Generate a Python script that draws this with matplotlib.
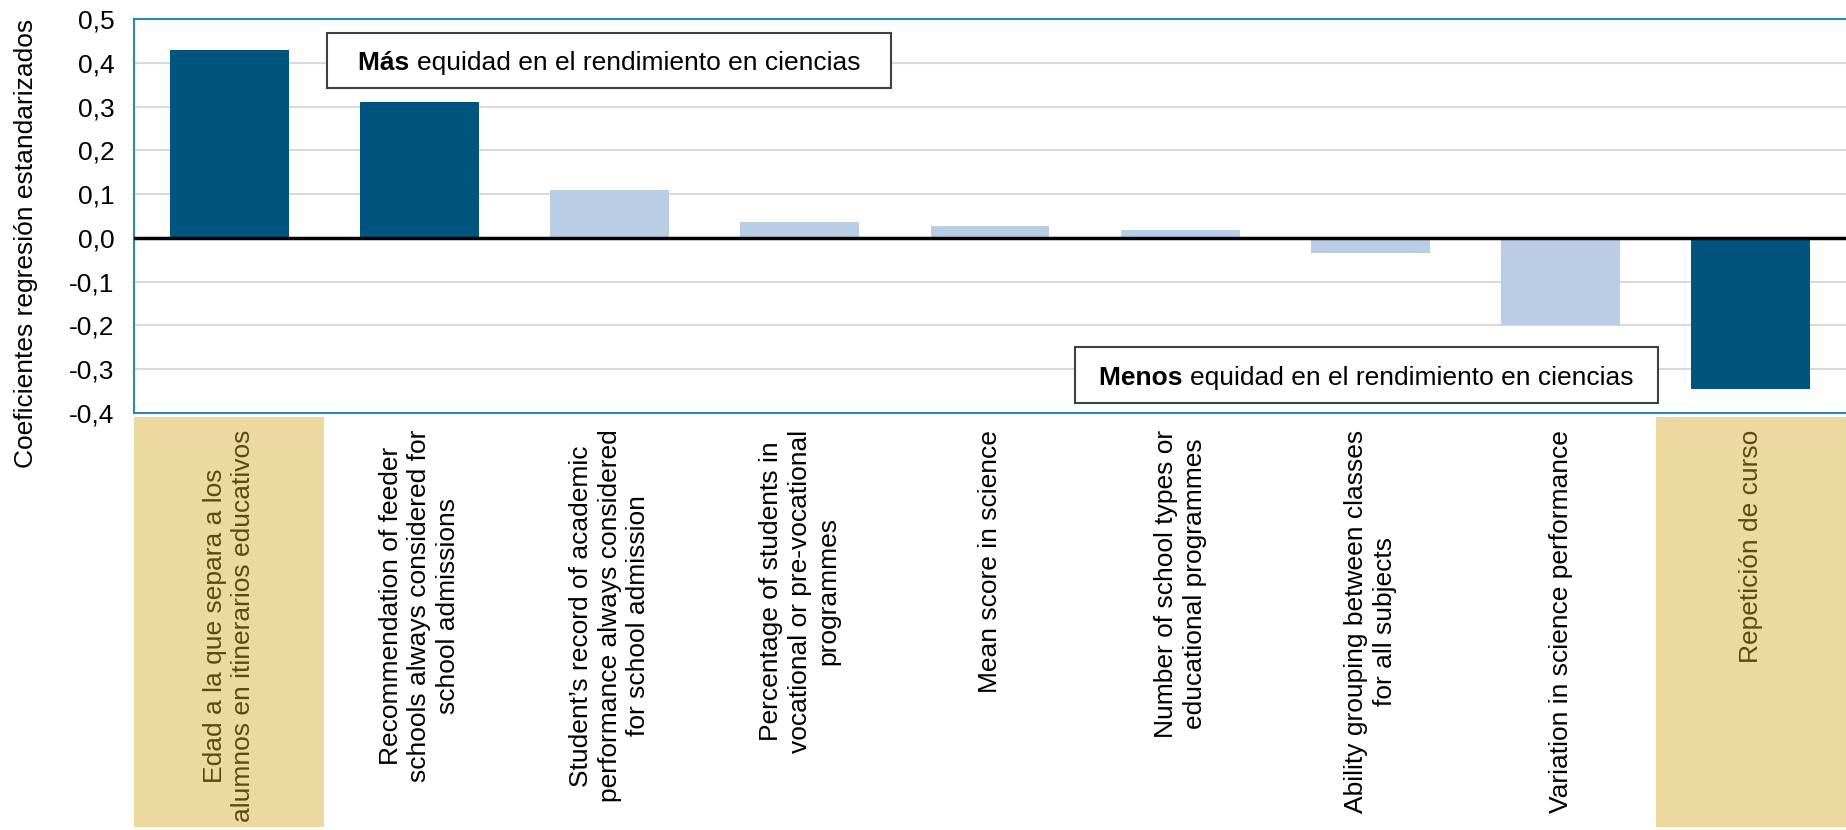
import matplotlib.pyplot as plt
from matplotlib.patches import Rectangle
import numpy as np

plt.rcParams['font.family'] = ['Liberation Sans', 'DejaVu Sans']

# Categories (tick labels, bottom axis)
categories = [
    "Edad a la que separa a los\nalumnos en itinerarios educativos",
    "Recommendation of feeder\nschools always considered for\nschool admissions",
    "Student\u2019s record of academic\nperformance always considered\nfor school admission",
    "Percentage of students in\nvocational or pre-vocational\nprogrammes",
    "Mean score in science",
    "Number of school types or\neducational programmes",
    "Ability grouping between classes\nfor all subjects",
    "Variation in science performance",
    "Repetición de curso",
]

# Standardised regression coefficients
values = [0.43, 0.31, 0.11, 0.037, 0.028, 0.019, -0.034, -0.20, -0.345]

# which bars are significant (dark) / which labels are highlighted
significant = [True, True, False, False, False, False, False, False, True]
highlighted = [True, False, False, False, False, False, False, False, True]

yticks = [-0.4, -0.3, -0.2, -0.1, 0.0, 0.1, 0.2, 0.3, 0.4, 0.5]

dark = '#00557F'
light = '#B9CDE4'
tan = '#ECD9A0'
spine_blue = '#2E86B8'
fs = 19

W, H = 1846, 830
fig = plt.figure(figsize=(W / 100, H / 100), dpi=100)
ax = fig.add_axes([134 / W, 1 - 413 / H, (W - 134) / W, (413 - 19) / H])

x = np.arange(len(categories))
colors = [dark if s else light for s in significant]
ax.bar(x, values, width=0.625, color=colors, zorder=2)

ax.set_xlim(-0.5, len(categories) - 0.5)
ax.set_ylim(-0.4, 0.5)
ax.set_yticks(yticks)
ax.set_yticklabels([f"{v:.1f}".replace('.', ',') for v in yticks])
ax.yaxis.grid(True, color='#D9D9D9', lw=1.5, zorder=0)
ax.set_axisbelow(True)
ax.axhline(0, color='black', lw=2.5, zorder=3)

ax.tick_params(axis='y', length=0, pad=14, labelsize=fs)
ax.tick_params(axis='x', length=0, pad=12, labelsize=fs)
ax.set_xticks(x)
ax.set_xticklabels(categories, rotation=90, linespacing=1.25)
for lab, hl in zip(ax.get_xticklabels(), highlighted):
    if hl:
        lab.set_color('#5A4A12')

for side in ['left', 'top', 'bottom']:
    ax.spines[side].set_color(spine_blue)
    ax.spines[side].set_linewidth(1.5)
ax.spines['right'].set_visible(False)

ax.set_ylabel("Coeficientes regresión estandarizados", fontsize=fs)
ax.yaxis.set_label_coords(-(134 - 38) / (W - 134), 0.43)

# highlighted category label backgrounds
pos = ax.get_position()
for i, hl in enumerate(highlighted):
    if hl:
        r = Rectangle((pos.x0 + i * pos.width / len(categories), 3 / H),
                      pos.width / len(categories), (413 - 3) / H,
                      transform=fig.transFigure, facecolor=tan, edgecolor='none', zorder=-1)
        fig.patches.append(r)


def note_box(x0, y0, x1, y1, bold, rest):
    fig.patches.append(Rectangle((x0 / W, 1 - y1 / H), (x1 - x0) / W, (y1 - y0) / H,
                                 transform=fig.transFigure, facecolor='white',
                                 edgecolor='#404040', lw=1.5, zorder=5))
    t1 = fig.text(0, 0, bold + " ", fontsize=fs, weight='bold')
    t2 = fig.text(0, 0, rest, fontsize=fs)
    fig.canvas.draw()
    r = fig.canvas.get_renderer()
    w1 = t1.get_window_extent(r).width
    w2 = t2.get_window_extent(r).width
    start = (x0 + x1) / 2 - (w1 + w2) / 2
    yc = 1 - ((y0 + y1) / 2) / H
    for t, xs in ((t1, start), (t2, start + w1)):
        t.set_position((xs / W, yc))
        t.set_va('center_baseline')
        t.set_zorder(6)


note_box(327, 33, 891, 88, "Más", "equidad en el rendimiento en ciencias")
note_box(1075, 347, 1658, 403, "Menos", "equidad en el rendimiento en ciencias")

fig.savefig("out.png", dpi=100)
